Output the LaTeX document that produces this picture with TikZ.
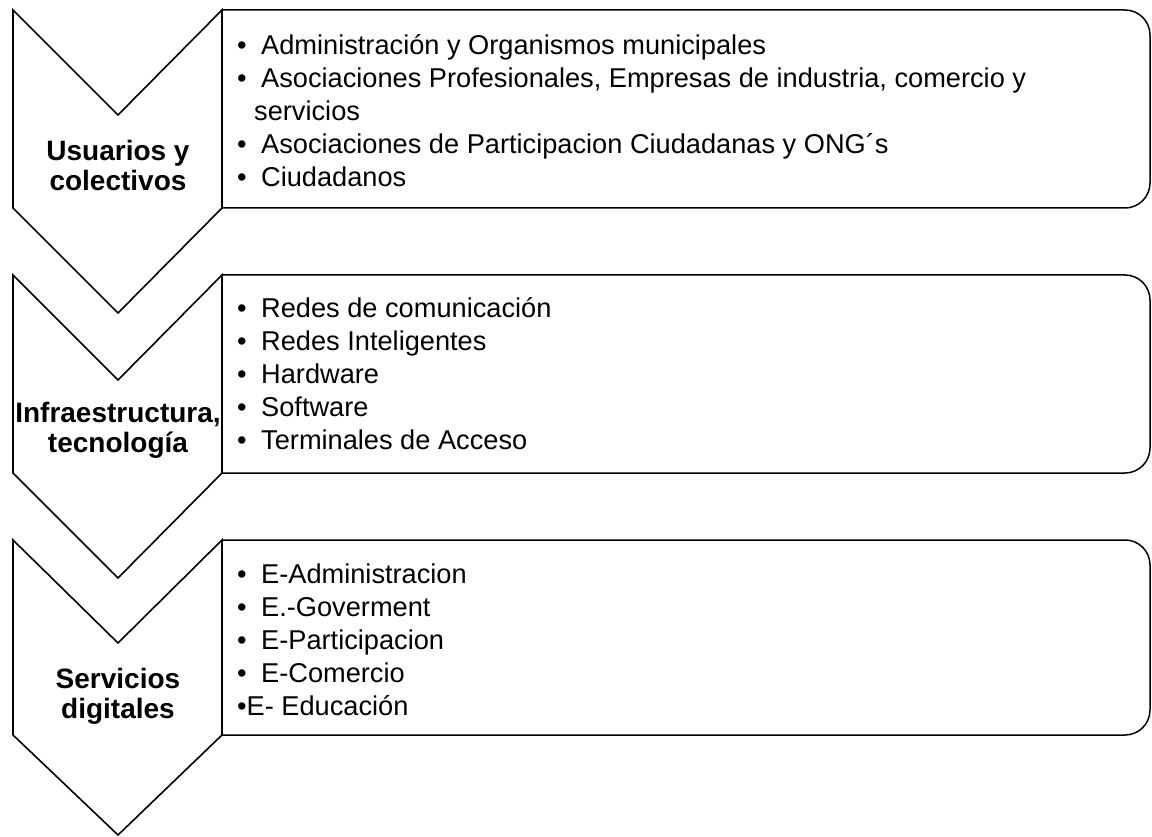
\documentclass[tikz,border=0pt]{standalone}
\usepackage{fontspec}
\setmainfont{Liberation Sans}
\usetikzlibrary{positioning}
\tikzset{
  chevron/.style={draw, line width=1.6pt, fill=white, line join=miter},
  roundbox/.style={draw, line width=1.5pt},
  stagelabel/.style={align=center, inner sep=0pt, font=\fontsize{28}{30}\selectfont\bfseries},
  itemlist/.style={anchor=west, align=left, inner sep=0pt, font=\fontsize{27.2}{33}\selectfont}
}
\newcommand\itm{\makebox[24pt][l]{•}}

\begin{document}
\begin{tikzpicture}[x=1pt, y=1pt]

  \useasboundingbox (0,0) rectangle (1152,-837);

  % Usuarios y colectivos
  \begin{scope}[yshift=-10pt]
    \draw[chevron] (13,0) -- (118,-105) -- (222,0) -- (222,-198) -- (118,-303) -- (13,-198) -- cycle;
    \draw[roundbox] (222,0) -- (1125,0) arc (90:0:25) -- (1150,-173) arc (0:-90:25) -- (222,-198) -- cycle;
    \node[stagelabel] (stage1) at (118,-155) {Usuarios y\\colectivos};
    \coordinate (box1w) at (222,-101);
    \node[itemlist, right=15pt of box1w] (list1) {\itm Administración y Organismos municipales\\
      \itm Asociaciones Profesionales, Empresas de industria, comercio y\\
      \hspace{17pt}servicios\\
      \itm Asociaciones de Participacion Ciudadanas y ONG´s\\
      \itm Ciudadanos};
  \end{scope}

  % Infraestructura, tecnologia
  \begin{scope}[yshift=-275pt]
    \draw[chevron] (13,0) -- (118,-105) -- (222,0) -- (222,-198) -- (118,-303) -- (13,-198) -- cycle;
    \draw[roundbox] (222,0) -- (1125,0) arc (90:0:25) -- (1150,-173) arc (0:-90:25) -- (222,-198) -- cycle;
    \node[stagelabel] (stage2) at (118,-155) {Infraestructura,\\tecnología};
    \coordinate (box2w) at (222,-99);
    \node[itemlist, right=15pt of box2w] (list2) {\itm Redes de comunicación\\
      \itm Redes Inteligentes\\
      \itm Hardware\\
      \itm Software\\
      \itm Terminales de Acceso};
  \end{scope}

  % Servicios digitales
  \begin{scope}[yshift=-540pt]
    \draw[chevron] (13,0) -- (118,-103) -- (222,0) -- (222,-195) -- (118,-295) -- (13,-195) -- cycle;
    \draw[roundbox] (222,0) -- (1125,0) arc (90:0:25) -- (1150,-170) arc (0:-90:25) -- (222,-195) -- cycle;
    \node[stagelabel] (stage3) at (118,-156) {Servicios\\digitales};
    \coordinate (box3w) at (222,-100);
    \node[itemlist, right=15pt of box3w] (list3) {\itm E-Administracion\\
      \itm E.-Goverment\\
      \itm E-Participacion\\
      \itm E-Comercio\\
      •E- Educación};
  \end{scope}

\end{tikzpicture}
\end{document}
